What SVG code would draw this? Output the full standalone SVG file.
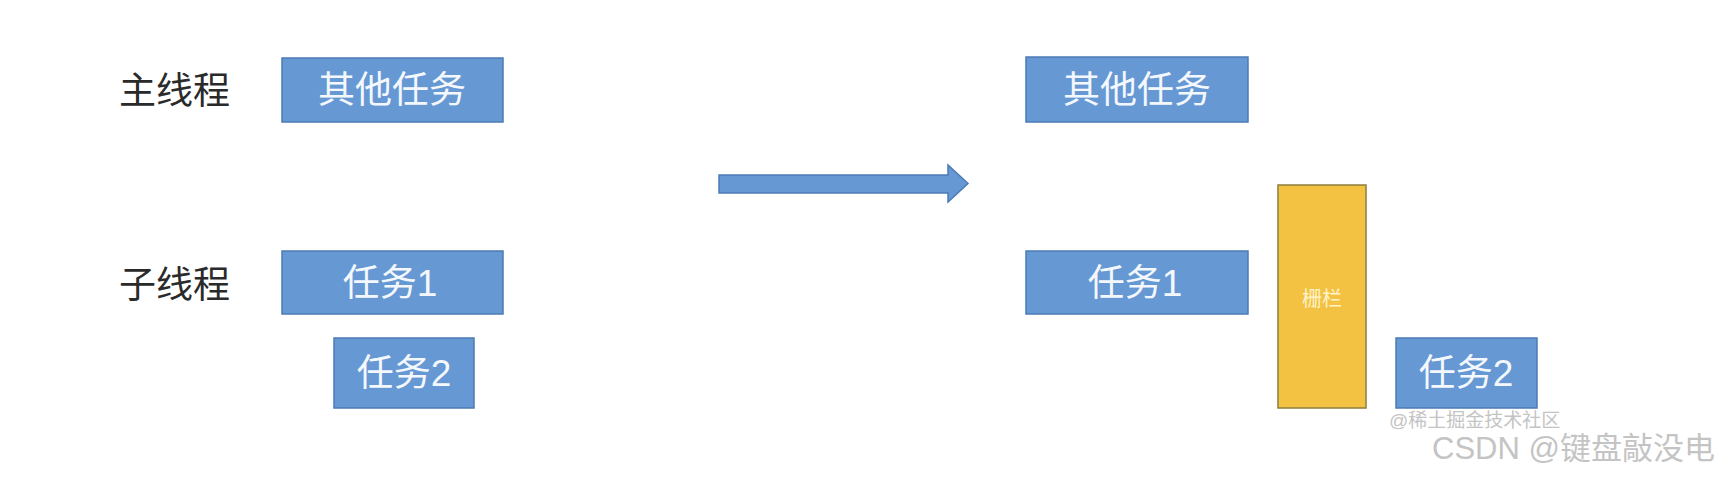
<svg xmlns="http://www.w3.org/2000/svg" width="1728" height="478" viewBox="0 0 1728 478">
<style>
.task{fill:#6698d4;stroke:#4c7bb6;stroke-width:1.5}
.bar{fill:#f3c243;stroke:#8f7d3c;stroke-width:1.5}
.tl{font-family:"Liberation Sans","Noto Sans CJK SC",sans-serif;font-size:37px;fill:#f4f8fd;text-anchor:middle;dominant-baseline:central}
.lab{font-family:"Noto Sans CJK SC",sans-serif;font-size:37px;fill:#2a2a2a;dominant-baseline:central}
.wm{font-family:"Liberation Sans","Noto Sans CJK SC",sans-serif;fill:#c4c4c4}
</style>
<rect width="1728" height="478" fill="#ffffff"/>
<text class="lab" x="119" y="88">主线程</text>
<text class="lab" x="119" y="282">子线程</text>
<g id="left-other">
<rect class="task" x="282" y="58" width="221" height="64"/>
<text class="tl" x="392" y="90">其他任务</text>
</g>
<g id="left-task1">
<rect class="task" x="282" y="251" width="221" height="63"/>
<text class="tl" x="390" y="283">任务1</text>
</g>
<g id="left-task2">
<rect class="task" x="334" y="338" width="140" height="70"/>
<text class="tl" x="404" y="373">任务2</text>
</g>
<g id="connectors">
<polygon points="719,175 948,175 948,165 968,183.5 948,202 948,193 719,193" fill="#6698d4" stroke="#4c7bb6" stroke-width="1.5"/>
</g>
<g id="right-other">
<rect class="task" x="1026" y="57" width="222" height="65"/>
<text class="tl" x="1137" y="90">其他任务</text>
</g>
<g id="right-task1">
<rect class="task" x="1026" y="251" width="222" height="63"/>
<text class="tl" x="1135" y="283">任务1</text>
</g>
<g id="barrier">
<rect class="bar" x="1278" y="185" width="88" height="223"/>
<text x="1322" y="297" font-family="Noto Sans CJK SC,sans-serif" font-size="20" fill="#fff3c8" text-anchor="middle" dominant-baseline="central">栅栏</text>
</g>
<g id="right-task2">
<rect class="task" x="1396" y="338" width="141" height="70"/>
<text class="tl" x="1466" y="373">任务2</text>
</g>
<text class="wm" x="1389" y="427" font-size="19">@稀土掘金技术社区</text>
<text class="wm" x="1432" y="459" font-size="31">CSDN @键盘敲没电</text>
</svg>
